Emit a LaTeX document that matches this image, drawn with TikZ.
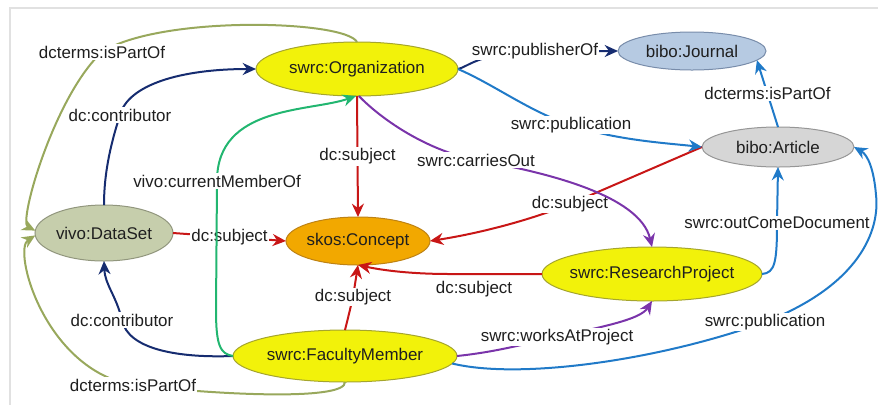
\documentclass[tikz,border=0pt]{standalone}
\usepackage{fontspec}
\setmainfont{Liberation Sans}
\usetikzlibrary{shapes.geometric,arrows.meta}

\definecolor{frameGray}{RGB}{225,225,225}
\definecolor{yellowFill}{RGB}{242,242,10}
\definecolor{yellowLine}{RGB}{165,165,45}
\definecolor{journalFill}{RGB}{182,202,226}
\definecolor{journalLine}{RGB}{120,140,170}
\definecolor{articleFill}{RGB}{214,214,214}
\definecolor{articleLine}{RGB}{150,150,150}
\definecolor{datasetFill}{RGB}{198,206,172}
\definecolor{datasetLine}{RGB}{145,150,125}
\definecolor{conceptFill}{RGB}{242,168,0}
\definecolor{conceptLine}{RGB}{190,130,20}
\definecolor{partOfC}{RGB}{152,168,92}
\definecolor{contribC}{RGB}{22,44,112}
\definecolor{memberC}{RGB}{34,182,112}
\definecolor{subjC}{RGB}{200,22,22}
\definecolor{carriesC}{RGB}{122,52,170}
\definecolor{pubC}{RGB}{32,122,200}

\newcommand{\cname}[1]{\makebox[0pt]{#1}}

\tikzset{every picture/.style={line width=0.75pt}}
\tikzset{
  cls/.style={ellipse, draw, inner sep=0pt, outer sep=0pt, text=black!88, font=\fontsize{12.7}{15}\selectfont},
  classYellow/.style={cls, fill=yellowFill, draw=yellowLine},
  classJournal/.style={cls, fill=journalFill, draw=journalLine},
  classArticle/.style={cls, fill=articleFill, draw=articleLine},
  classDataset/.style={cls, fill=datasetFill, draw=datasetLine},
  classConcept/.style={cls, fill=conceptFill, draw=conceptLine},
  lbl/.style={fill=white, inner sep=1pt, text=black!88, font=\fontsize{12.7}{15}\selectfont},
  rel/.style={line width=1.5pt, -{Stealth[length=10pt,width=9pt]}},
}

\begin{document}
\begin{tikzpicture}[x=0.75pt,y=0.75pt,yscale=-1,xscale=1]
\useasboundingbox (0,0) rectangle (878,405);

%Shape: Frame
\draw [color=frameGray, line width=1.5pt] (10,405) -- (10,8) -- (878,8);

%Shape: Ellipse [org]
\node [classYellow, minimum width=151.5pt, minimum height=40.5pt] (org) at (357,69) {\cname{swrc:Organization}};
%Shape: Ellipse [jour]
\node [classJournal, minimum width=111pt, minimum height=28.5pt] (jour) at (692,51) {\cname{bibo:Journal}};
%Shape: Ellipse [art]
\node [classArticle, minimum width=114pt, minimum height=30pt] (art) at (778,147) {\cname{bibo:Article}};
%Shape: Ellipse [data]
\node [classDataset, minimum width=103.5pt, minimum height=42pt] (data) at (104,233) {\cname{vivo:DataSet}};
%Shape: Ellipse [conc]
\node [classConcept, minimum width=108pt, minimum height=36pt] (conc) at (358,241) {\cname{skos:Concept}};
%Shape: Ellipse [proj]
\node [classYellow, minimum width=165pt, minimum height=40.5pt] (proj) at (652,274) {\cname{swrc:ResearchProject}};
%Shape: Ellipse [fac]
\node [classYellow, minimum width=168pt, minimum height=39pt] (fac) at (345,356) {\cname{swrc:FacultyMember}};

%Curve Lines [dcterms:isPartOf]
\draw [rel, color=partOfC] (org.north) .. controls (345,20) and (160,15) .. (102,52) node [lbl] {dcterms:isPartOf} .. controls (55,95) and (18,222) .. (data.178);
\draw [rel, color=partOfC] (fac.south) .. controls (346,400) and (230,396) .. (133,385) node [lbl] {dcterms:isPartOf} .. controls (45,370) and (12,250) .. (data.182);

%Curve Lines [dc:contributor]
\draw [rel, color=contribC] (data.north) .. controls (104,170) and (112,140) .. (120,115) node [lbl] {dc:contributor} .. controls (128,85) and (180,69) .. (org.west);
\draw [rel, color=contribC] (fac.west) .. controls (180,358) and (128,350) .. (122,320) node [lbl] {dc:contributor} .. controls (116,295) and (105,285) .. (data.south);

%Straight Lines [dc:subject]
\draw [rel, color=subjC] (data.east) -- node [lbl] {dc:subject} (conc.west);
\draw [rel, color=subjC] (org.south) -- node [lbl] {dc:subject} (conc.north);
\draw [rel, color=subjC] (art.west) -- (570,204) node [lbl] {dc:subject} .. controls (525,222) and (475,234) .. (conc.east);
\draw [rel, color=subjC] (proj.west) -- (450,274) .. controls (400,274) and (372,268) .. (conc.south);
\draw [rel, color=subjC] (fac.north) .. controls (348,318) .. (353,297) node [lbl] {dc:subject} -- (conc.south);
% Text Node
\node [lbl] (projSubj) at (474,289) {dc:subject};

%Curve Lines [vivo:currentMemberOf]
\draw [rel, color=memberC] (fac.west) .. controls (220,354) and (216,345) .. (216,310) -- (217,181) node [lbl] {vivo:currentMemberOf} .. controls (217,105) and (310,112) .. (org.-92);

%Curve Lines [swrc:carriesOut]
\draw [rel, color=carriesC] (org.-86) .. controls (380,118) and (425,150) .. (476,160) node [lbl] {swrc:carriesOut} .. controls (545,172) and (640,195) .. (proj.north);
%Curve Lines [swrc:worksAtProject]
\draw [rel, color=carriesC] (fac.east) .. controls (495,352) and (520,345) .. (557,337) node [lbl] {swrc:worksAtProject} .. controls (600,327) and (640,320) .. (proj.south);

%Curve Lines [swrc:publisherOf]
\draw [rel, color=contribC] (org.east) .. controls (468,67) and (478,53) .. (535,51) node [lbl] {swrc:publisherOf} -- (jour.west);

%Curve Lines [swrc:publication]
\draw [rel, color=pubC] (org.east) .. controls (495,85) and (530,112) .. (571,125) node [lbl] {swrc:publication} .. controls (615,140) and (665,143) .. (art.west);
\draw [rel, color=pubC] (fac.-4) .. controls (520,380) and (660,360) .. (765,322) node [lbl] {swrc:publication} .. controls (860,285) and (880,230) .. (876,195) .. controls (874,170) and (868,155) .. (art.east);

%Straight Lines [dcterms:isPartOf]
\draw [rel, color=pubC] (art.north) -- node [lbl] {dcterms:isPartOf} (jour.-8);

%Curve Lines [swrc:outComeDocument]
\draw [rel, color=pubC] (proj.east) .. controls (775,273) and (777,262) .. (777,223) node [lbl] {swrc:outComeDocument} -- (art.south);

\end{tikzpicture}
\end{document}
